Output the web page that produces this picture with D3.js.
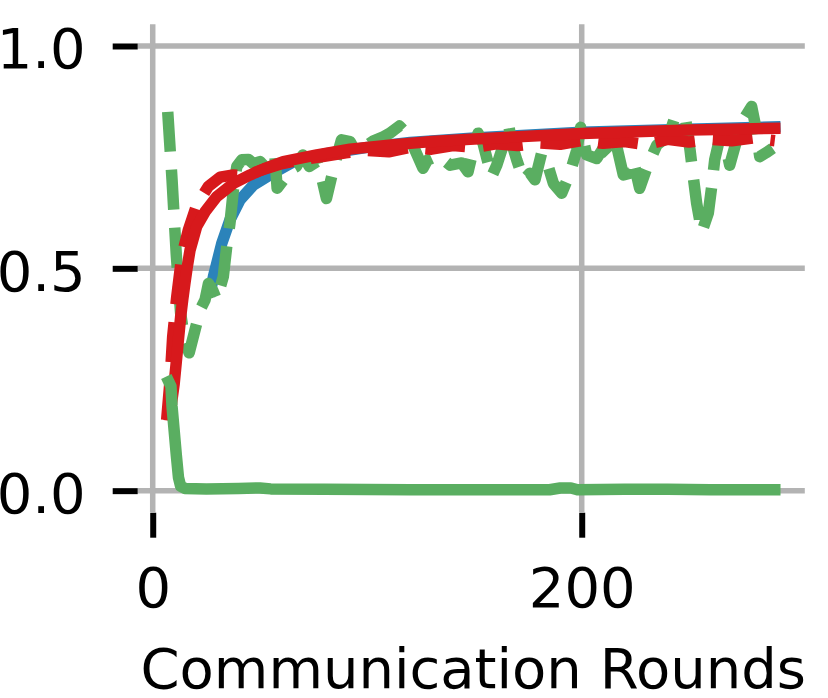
<!DOCTYPE html>
<html>
<head>
<meta charset="utf-8">
<script src="https://cdn.jsdelivr.net/npm/d3@7"></script>
<style>
  body { margin: 0; background: #fff; }
  svg text { font-family: "DejaVu Sans", sans-serif; fill: #000; }
</style>
</head>
<body>
<svg id="chart" width="828" height="698"></svg>
<script>
// [round, value] pairs
const blueSolid = [
  [27, 0.45], [28.3, 0.481], [32.2, 0.556], [36, 0.609], [40.7, 0.654], [46.9, 0.687],
  [56, 0.714], [65, 0.738], [80, 0.757], [100, 0.772], [120, 0.783], [150, 0.793],
  [200, 0.806], [250, 0.813], [290, 0.818]
];

const redSolid = [
  [8, 0.17], [9, 0.205], [10, 0.24], [11, 0.29], [12, 0.34], [13, 0.39], [14, 0.43],
  [15, 0.466], [16, 0.5], [17.4, 0.541], [20.5, 0.594], [24.4, 0.627], [29.8, 0.661],
  [37.6, 0.691], [45.4, 0.71], [52, 0.724], [60.9, 0.74], [76.5, 0.755], [92, 0.768],
  [110, 0.777], [130, 0.785], [150, 0.791], [175, 0.797], [200, 0.803], [225, 0.807],
  [250, 0.811], [270, 0.813], [290, 0.815]
];

const redDashed = [
  [6.5, 0.159], [8.1, 0.249], [9.3, 0.346], [11.2, 0.436], [13.5, 0.526], [16.6, 0.586],
  [20.5, 0.642], [25.9, 0.684], [31.4, 0.705], [37.6, 0.71], [43.8, 0.708], [50, 0.72],
  [60, 0.735], [70, 0.745], [80, 0.752], [90, 0.76], [100, 0.765], [110, 0.762],
  [120, 0.772], [130, 0.768], [140, 0.776], [150, 0.772], [160, 0.78], [170, 0.776],
  [180, 0.782], [190, 0.779], [200, 0.787], [210, 0.781], [220, 0.785], [230, 0.778],
  [240, 0.79], [250, 0.784], [260, 0.79], [270, 0.787], [280, 0.793], [290, 0.787]
];

const greenDashed = [
  [7, 0.852], [9, 0.7], [11, 0.53], [13, 0.4], [15, 0.335], [17, 0.31], [20.5, 0.376],
  [22, 0.406], [24.4, 0.429], [26, 0.466], [28, 0.45], [29.8, 0.429], [32.9, 0.481],
  [34.5, 0.549], [36, 0.601], [37.6, 0.676], [39.2, 0.729], [41.5, 0.744], [44.6, 0.745],
  [47, 0.735], [50, 0.74], [53, 0.725], [57, 0.751], [58, 0.68], [61, 0.699], [64, 0.721],
  [67, 0.729], [70, 0.755], [73, 0.729], [76.5, 0.74], [79, 0.699], [81, 0.657],
  [83.4, 0.706], [85.8, 0.751], [88, 0.789], [92, 0.785], [95, 0.759], [98, 0.77],
  [103, 0.787], [107.5, 0.796], [110.6, 0.804], [115, 0.82], [119, 0.8], [121, 0.78],
  [126, 0.725], [128, 0.743], [133, 0.754], [138.7, 0.732], [144, 0.737], [147, 0.717],
  [149.4, 0.766], [151.7, 0.804], [154, 0.781], [158, 0.706], [160.4, 0.732],
  [162.7, 0.766], [165.8, 0.826], [167.4, 0.781], [169.7, 0.744], [172.8, 0.699],
  [175.9, 0.714], [178.2, 0.699], [181.3, 0.759], [184.4, 0.729], [186.8, 0.691],
  [190.7, 0.669], [194.5, 0.714], [197.7, 0.766], [199.5, 0.817], [202.3, 0.755],
  [207, 0.747], [210, 0.77], [213, 0.755], [216, 0.781], [219.4, 0.71], [222.5, 0.714],
  [224, 0.744], [227, 0.68], [230, 0.721], [232.6, 0.751], [235, 0.777], [238, 0.789],
  [241, 0.804], [243, 0.834], [246, 0.819], [248.6, 0.83], [250.5, 0.766], [252, 0.706],
  [253.6, 0.646], [256, 0.582], [259, 0.624], [260.6, 0.684], [262, 0.744], [264.5, 0.796],
  [266.8, 0.781], [269, 0.732], [272.3, 0.789], [275.3, 0.834], [279.2, 0.864],
  [280.8, 0.826], [283, 0.751], [286, 0.76], [289, 0.77]
];

const greenSolid = [
  [7.5, 0.245], [8.5, 0.235], [9, 0.19], [10, 0.135], [11, 0.08], [12, 0.03], [13, 0.01],
  [15, 0.005], [25, 0.004], [40, 0.005], [50, 0.006], [55, 0.004], [80, 0.003],
  [120, 0.002], [160, 0.002], [185, 0.002], [190, 0.006], [195, 0.006], [198, 0.002],
  [220, 0.003], [240, 0.003], [260, 0.002], [290, 0.002]
];

const xTicks = [0, 200];
const yTicks = [0.0, 0.5, 1.0];
const xLabel = 'Communication Rounds';

const svg = d3.select('#chart');
const lw = 11.5;

const x = d3.scaleLinear().domain([-7, 304]).range([137.7, 804.8]);
const y = d3.scaleLinear().domain([-0.048, 1.049]).range([512, 24.2]);

svg.append('rect').attr('width', 828).attr('height', 698).attr('fill', '#fff');

// grid
const grid = svg.append('g').attr('stroke', '#b3b3b3').attr('stroke-width', 5.5);
grid.selectAll('.hg').data(yTicks).join('line')
  .attr('x1', x.range()[0]).attr('x2', x.range()[1])
  .attr('y1', d => y(d)).attr('y2', d => y(d));
grid.selectAll('.vg').data(xTicks).join('line')
  .attr('y1', y.range()[0]).attr('y2', y.range()[1])
  .attr('x1', d => x(d)).attr('x2', d => x(d));

// offset axes with no spine
const yAxis = d3.axisLeft(y).tickValues(yTicks).tickFormat(d3.format('.1f'))
  .tickSize(25).tickPadding(27);
const xAxis = d3.axisBottom(x).tickValues(xTicks).tickFormat(d3.format('d'))
  .tickSize(25).tickPadding(30);

const gy = svg.append('g').attr('transform', `translate(${x.range()[0]},0)`).call(yAxis);
const gx = svg.append('g').attr('transform', `translate(0,${y.range()[0] + 0.7})`).call(xAxis);
[gy, gx].forEach(g => {
  g.select('.domain').remove();
  g.selectAll('.tick line').attr('stroke', '#000').attr('stroke-width', 6);
  g.selectAll('text').attr('font-size', 56).attr('font-family', '"DejaVu Sans", sans-serif');
});
gy.selectAll('.tick text').attr('dy', '0.39em');
gx.selectAll('.tick text').attr('dy', '0.71em');

svg.append('text')
  .attr('x', (x.range()[0] + x.range()[1]) / 2 + 2)
  .attr('y', 688)
  .attr('text-anchor', 'middle')
  .attr('font-size', 56)
  .text(xLabel);

// lines
const line = d3.line().x(d => x(d[0])).y(d => y(d[1]));
const series = [
  { data: blueSolid, color: '#2b83ba', dash: null },
  { data: greenDashed, color: '#5aae61', dash: [40, 18] },
  { data: redDashed, color: '#d7191c', dash: [40, 18] },
  { data: redSolid, color: '#d7191c', dash: null },
  { data: greenSolid, color: '#5aae61', dash: null }
];
svg.append('g').selectAll('path').data(series).join('path')
  .attr('d', d => line(d.data))
  .attr('fill', 'none')
  .attr('stroke', d => d.color)
  .attr('stroke-width', lw)
  .attr('stroke-linejoin', 'round')
  .attr('stroke-linecap', d => d.dash ? 'butt' : 'square')
  .attr('stroke-dasharray', d => d.dash ? d.dash.join(',') : null);
</script>
</body>
</html>
